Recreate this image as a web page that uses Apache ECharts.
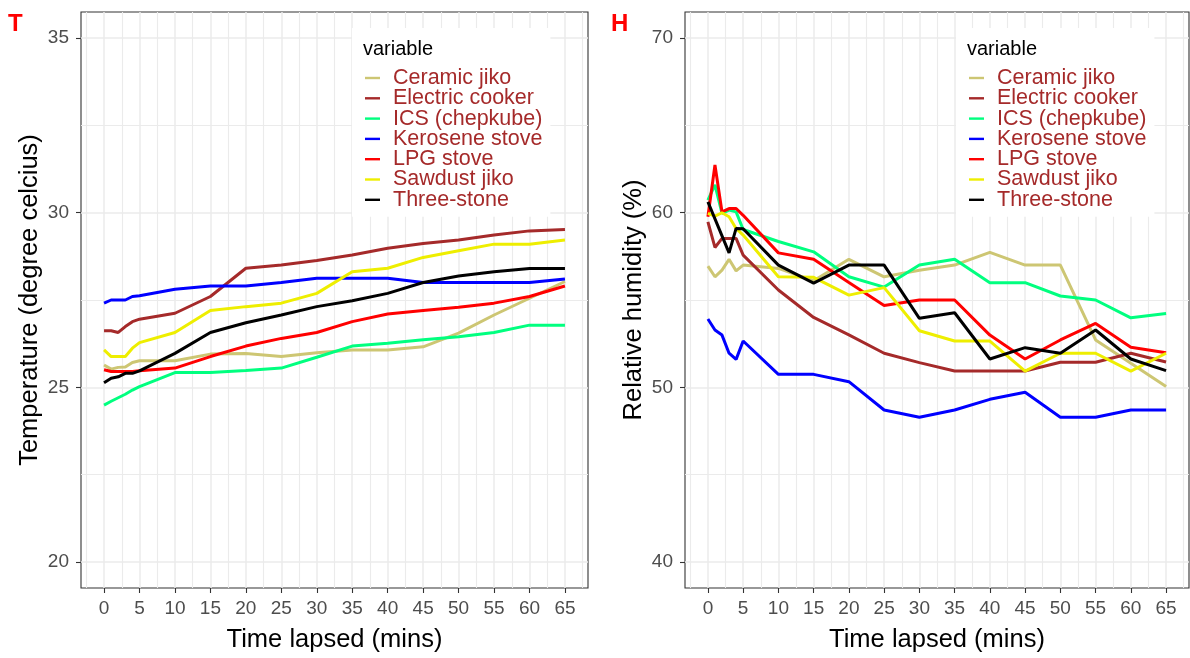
<!DOCTYPE html>
<html><head><meta charset="utf-8">
<script src="https://cdn.jsdelivr.net/npm/echarts@6/dist/echarts.min.js"></script>
<style>html,body{margin:0;padding:0;background:#fff}#c{width:1190px;height:658px}</style>
</head><body><div id="c"></div>
<script>
const timeMins = [0,1,2,3,4,5,10,15,20,25,30,35,40,45,50,55,60,65];
const seriesNames = ['Ceramic jiko','Electric cooker','ICS (chepkube)','Kerosene stove','LPG stove','Sawdust jiko','Three-stone'];
const seriesColors = ['#CDC673','#A52A2A','#00FF7F','#0000FF','#FF0000','#EEEE00','#000000'];

// Temperature (degree celcius)
const ceramicT  = [25.64,25.52,25.57,25.58,25.71,25.76,25.76,25.95,25.97,25.88,25.99,26.07,26.07,26.16,26.55,27.07,27.55,28.03];
const electricT = [26.62,26.62,26.57,26.74,26.88,26.95,27.12,27.60,28.41,28.50,28.63,28.79,28.98,29.12,29.22,29.36,29.48,29.52];
const icsT      = [24.49,24.60,24.70,24.80,24.92,25.02,25.42,25.42,25.48,25.55,25.86,26.18,26.26,26.36,26.45,26.57,26.78,26.78];
const keroseneT = [27.41,27.50,27.50,27.50,27.60,27.62,27.81,27.90,27.90,28.00,28.12,28.12,28.12,28.00,28.00,28.00,28.00,28.10];
const lpgT      = [25.50,25.45,25.45,25.45,25.45,25.47,25.55,25.88,26.18,26.40,26.57,26.88,27.10,27.20,27.29,27.41,27.60,27.90];
const sawdustT  = [26.07,25.88,25.88,25.88,26.12,26.28,26.57,27.20,27.31,27.41,27.69,28.31,28.41,28.72,28.91,29.10,29.10,29.22];
const threeT    = [25.13,25.26,25.30,25.40,25.40,25.47,25.97,26.57,26.85,27.07,27.31,27.48,27.69,28.00,28.19,28.31,28.40,28.40];

// Relative humidity (%)
const ceramicH  = [56.94,56.33,56.71,57.33,56.67,57.00,56.81,56.10,57.33,56.33,56.71,57.00,57.73,57.00,57.00,52.71,51.37,50.04];
const electricH = [59.48,58.01,58.53,58.53,58.53,57.57,55.57,54.00,53.00,51.95,51.41,50.93,50.93,50.93,51.43,51.43,51.95,51.45];
const icsH      = [60.72,61.60,59.96,60.15,60.05,59.04,58.35,57.76,56.33,55.74,57.00,57.33,55.99,55.99,55.23,55.00,53.98,54.23];
const keroseneH = [53.91,53.28,52.99,51.95,51.60,52.65,50.74,50.74,50.32,48.70,48.28,48.70,49.31,49.71,48.28,48.28,48.70,48.70];
const lpgH      = [59.77,62.73,60.05,60.24,60.24,59.85,57.70,57.33,56.00,54.69,55.00,55.00,52.99,51.62,52.71,53.66,52.29,51.98];
const sawdustH  = [59.96,59.80,60.00,59.77,59.10,58.72,56.33,56.30,55.28,55.71,53.24,52.65,52.65,50.93,51.95,51.95,50.93,51.95];
const threeH    = [60.62,59.65,58.67,57.70,59.10,59.08,57.00,55.97,57.00,57.00,53.95,54.27,51.62,52.27,51.95,53.28,51.62,50.95];

const xMajor = [0,5,10,15,20,25,30,35,40,45,50,55,60,65];
const xMinor = [-2.5,2.5,7.5,12.5,17.5,22.5,27.5,32.5,37.5,42.5,47.5,52.5,57.5,62.5,67.5];
const tMajor = [20,25,30,35];
const tMinor = [22.5,27.5,32.5];
const hMajor = [40,50,60,70];
const hMinor = [45,55,65];

const tempData = [ceramicT, electricT, icsT, keroseneT, lpgT, sawdustT, threeT];
const humData  = [ceramicH, electricH, icsH, keroseneH, lpgH, sawdustH, threeH];

const FONT = 'Liberation Sans, Arial, sans-serif';
const GRID_C = '#EBEBEB';
const TICK_FS = 19;
const TITLE_FS = 25.5;

function majorX(gi){
  return {
    type:'value', gridIndex:gi, min:-3.25, max:68.25,
    name:'Time lapsed (mins)', nameLocation:'middle', nameGap:39,
    nameTextStyle:{fontFamily:FONT, fontSize:TITLE_FS, color:'#000'},
    axisLine:{show:false, onZero:false},
    axisTick:{show:true, length:5, lineStyle:{color:'#333', width:1.1}, customValues:xMajor},
    axisLabel:{fontFamily:FONT, fontSize:TICK_FS, color:'#4D4D4D', margin:11, customValues:xMajor},
    splitLine:{show:true, lineStyle:{color:GRID_C, width:1.5}}
  };
}
function minorX(gi){
  return {
    type:'value', gridIndex:gi, min:-3.25, max:68.25,
    axisLine:{show:false, onZero:false}, axisLabel:{show:false},
    axisTick:{show:false, customValues:xMinor},
    splitLine:{show:true, lineStyle:{color:GRID_C, width:1.1}}
  };
}
function majorY(gi, mn, mx, ticks, name){
  return {
    type:'value', gridIndex:gi, min:mn, max:mx,
    name:name, nameLocation:'middle', nameGap:38,
    nameTextStyle:{fontFamily:FONT, fontSize:TITLE_FS, color:'#000'},
    axisLine:{show:false, onZero:false},
    axisTick:{show:true, length:5, lineStyle:{color:'#333', width:1.1}, customValues:ticks},
    axisLabel:{fontFamily:FONT, fontSize:TICK_FS, color:'#4D4D4D', margin:12, customValues:ticks},
    splitLine:{show:true, lineStyle:{color:GRID_C, width:1.5}}
  };
}
function minorY(gi, mn, mx, ticks){
  return {
    type:'value', gridIndex:gi, min:mn, max:mx,
    axisLine:{show:false, onZero:false}, axisLabel:{show:false},
    axisTick:{show:false, customValues:ticks},
    splitLine:{show:true, lineStyle:{color:GRID_C, width:1.1}}
  };
}

const series = [];
seriesNames.forEach((nm, i) => {
  series.push({
    name:nm, type:'line', xAxisIndex:0, yAxisIndex:0, showSymbol:false, symbol:'none',
    color:seriesColors[i], lineStyle:{width:3, color:seriesColors[i]},
    data: timeMins.map((t, k) => [t, tempData[i][k]]), animation:false
  });
  series.push({
    name:nm, type:'line', xAxisIndex:2, yAxisIndex:2, showSymbol:false, symbol:'none',
    color:seriesColors[i], lineStyle:{width:3, color:seriesColors[i]},
    data: timeMins.map((t, k) => [t, humData[i][k]]), animation:false
  });
});

function legendAt(left){
  return {
    orient:'vertical', left:left, top:28,
    backgroundColor:'#fff', borderWidth:0,
    padding:[39, 8, 6, 13],
    itemWidth:15, itemHeight:2.4, itemGap:-1.7,
    icon:'rect',
    data:seriesNames,
    textStyle:{fontFamily:FONT, fontSize:21.5, color:'#A52A2A', lineHeight:20.3, padding:[0,0,0,8]},
    selectedMode:false
  };
}

const option = {
  animation:false,
  backgroundColor:'#fff',
  title:[
    {text:'T', left:8, top:12, padding:0, textStyle:{fontFamily:FONT, fontSize:24, fontWeight:'bold', color:'#FF0000'}},
    {text:'H', left:611, top:12, padding:0, textStyle:{fontFamily:FONT, fontSize:24, fontWeight:'bold', color:'#FF0000'}},
    {text:'variable', left:363, top:39, padding:0, textStyle:{fontFamily:FONT, fontSize:20, fontWeight:'normal', color:'#000'}},
    {text:'variable', left:967, top:39, padding:0, textStyle:{fontFamily:FONT, fontSize:20, fontWeight:'normal', color:'#000'}}
  ],
  legend:[legendAt(352), legendAt(956)],
  grid:[
    {left:81, top:12, width:507, height:577, show:true, borderColor:'#333', borderWidth:1.1, backgroundColor:'#fff', containLabel:false},
    {left:685, top:12, width:504, height:577, show:true, borderColor:'#333', borderWidth:1.1, backgroundColor:'#fff', containLabel:false}
  ],
  xAxis:[majorX(0), minorX(0), majorX(1), minorX(1)],
  yAxis:[
    majorY(0, 19.25, 35.75, tMajor, 'Temperature (degree celcius)'),
    minorY(0, 19.25, 35.75, tMinor),
    majorY(1, 38.5, 71.5, hMajor, 'Relative humidity (%)'),
    minorY(1, 38.5, 71.5, hMinor)
  ],
  series:series
};

const chart = echarts.init(document.getElementById('c'), null, {renderer:'canvas'});
chart.setOption(option);
</script>
</body></html>
